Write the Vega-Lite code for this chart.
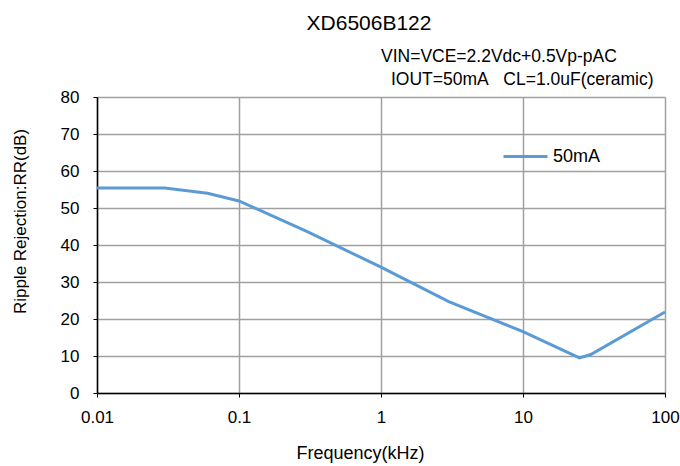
{
  "$schema": "https://vega.github.io/schema/vega-lite/v6.json",
  "autosize": {"type": "none"},
  "padding": {"left": 97, "top": 97, "right": 15, "bottom": 73},
  "width": 568,
  "height": 296,
  "background": "white",
  "title": {
    "text": "XD6506B122",
    "font": "Liberation Sans",
    "fontSize": 21,
    "fontWeight": "normal",
    "color": "#000000",
    "anchor": "middle",
    "dx": -12,
    "offset": 14
  },
  "config": {
    "view": {"stroke": null},
    "font": "Liberation Sans",
    "axis": {
      "titleFont": "Liberation Sans",
      "titleFontWeight": "normal",
      "titleColor": "#000000",
      "titleBaseline": "middle",
      "labelFont": "Liberation Sans",
      "labelColor": "#000000",
      "labelFontSize": 17,
      "labelOverlap": false,
      "labelFlush": false,
      "domainColor": "#000000",
      "domainWidth": 1.5,
      "tickColor": "#000000",
      "tickSize": 4,
      "grid": true,
      "gridColor": "#A0A0A0",
      "gridWidth": 1.5
    },
    "axisX": {"labelPadding": 12, "titleFontSize": 18, "titleX": 263, "titleY": 60},
    "axisY": {"labelPadding": 14, "titleFontSize": 17, "titleX": -77, "titleY": 124}
  },
  "layer": [
    {
      "data": {
        "values": [
          {"freq": 0.01, "rr": 55.4, "series": "50mA"},
          {"freq": 0.03, "rr": 55.4, "series": "50mA"},
          {"freq": 0.06, "rr": 54.0, "series": "50mA"},
          {"freq": 0.1, "rr": 51.9, "series": "50mA"},
          {"freq": 0.3, "rr": 43.7, "series": "50mA"},
          {"freq": 1, "rr": 34.0, "series": "50mA"},
          {"freq": 3, "rr": 24.7, "series": "50mA"},
          {"freq": 10, "rr": 16.6, "series": "50mA"},
          {"freq": 25, "rr": 9.5, "series": "50mA"},
          {"freq": 30, "rr": 10.4, "series": "50mA"},
          {"freq": 100, "rr": 21.9, "series": "50mA"}
        ]
      },
      "mark": {"type": "line", "strokeWidth": 3, "clip": false},
      "encoding": {
        "x": {
          "field": "freq",
          "type": "quantitative",
          "scale": {"type": "log", "domain": [0.01, 100], "nice": false},
          "axis": {"title": "Frequency(kHz)", "values": [0.01, 0.1, 1, 10, 100], "format": "~g"}
        },
        "y": {
          "field": "rr",
          "type": "quantitative",
          "scale": {"domain": [0, 80], "nice": false},
          "axis": {"title": "Ripple Rejection:RR(dB)", "values": [0, 10, 20, 30, 40, 50, 60, 70, 80]}
        },
        "color": {
          "field": "series",
          "type": "nominal",
          "scale": {"range": ["#5B9BD5"]},
          "legend": {
            "title": null,
            "orient": "none",
            "legendX": 405,
            "legendY": 36,
            "padding": 0,
            "symbolType": "stroke",
            "symbolSize": 1936,
            "symbolStrokeWidth": 3,
            "labelFont": "Liberation Sans",
            "labelFontSize": 18,
            "labelColor": "#000000",
            "labelOffset": 4
          }
        }
      }
    },
    {
      "data": {"values": [{"label": "VIN=VCE=2.2Vdc+0.5Vp-pAC"}]},
      "mark": {"type": "text", "align": "left", "baseline": "middle", "dy": -40, "font": "Liberation Sans", "fontSize": 17.5, "fontWeight": "normal", "fill": "#000000"},
      "encoding": {
        "x": {"datum": 1, "type": "quantitative", "axis": {"title": "Frequency(kHz)", "values": [0.01, 0.1, 1, 10, 100], "format": "~g"}},
        "y": {"datum": 80, "type": "quantitative", "axis": {"title": "Ripple Rejection:RR(dB)", "values": [0, 10, 20, 30, 40, 50, 60, 70, 80]}},
        "text": {"field": "label"}
      }
    },
    {
      "data": {"values": [{"label": "IOUT=50mA\u00a0\u00a0\u00a0CL=1.0uF(ceramic)"}]},
      "mark": {"type": "text", "align": "left", "baseline": "middle", "dx": 10, "dy": -17, "font": "Liberation Sans", "fontSize": 17.5, "fontWeight": "normal", "fill": "#000000"},
      "encoding": {
        "x": {"datum": 1, "type": "quantitative", "axis": {"title": "Frequency(kHz)", "values": [0.01, 0.1, 1, 10, 100], "format": "~g"}},
        "y": {"datum": 80, "type": "quantitative", "axis": {"title": "Ripple Rejection:RR(dB)", "values": [0, 10, 20, 30, 40, 50, 60, 70, 80]}},
        "text": {"field": "label"}
      }
    }
  ]
}
